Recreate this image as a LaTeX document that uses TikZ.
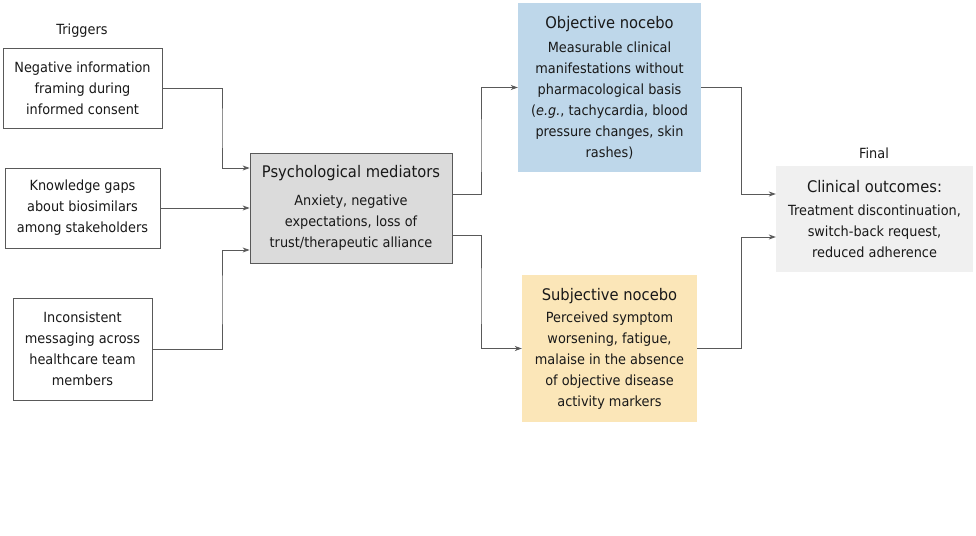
\documentclass[tikz,border=0pt]{standalone}
\usepackage{fontspec}
\setmainfont{DejaVu Sans}[FakeStretch=0.92]
\usetikzlibrary{arrows.meta}
\begin{document}
\begin{tikzpicture}[x=1pt,y=-1pt,
  txt/.style={font=\fontsize{14}{21}\selectfont, align=center, inner sep=0pt, text=black!90},
  trig/.style={txt, draw=black!65, line width=0.8pt},
  fillbox/.style={txt},
  conn/.style={draw=black!65, line width=0.8pt, -{Stealth[length=7pt,width=5pt]}}]
\useasboundingbox (0,0) rectangle (976,535);
\fill[white] (0,0) rectangle (976,535);
\newcommand{\T}[1]{{\fontsize{16}{21}\selectfont #1}}

\node[txt] (lt) at (82,31) {Triggers};
\node[trig, minimum width=159pt, minimum height=80pt] (t1) at (82.5,88) {Negative information\\framing during\\informed consent};
\node[trig, minimum width=155pt, minimum height=80pt] (t2) at (82.5,208) {Knowledge gaps\\about biosimilars\\among stakeholders};
\node[trig, minimum width=139pt, minimum height=102pt] (t3) at (82.5,349) {Inconsistent\\messaging across\\healthcare team\\members};

\node[trig, fill=black!14, minimum width=202pt, minimum height=110pt] (pm) at (351,208)
  {\T{Psychological mediators}\\[7pt]Anxiety, negative\\expectations, loss of\\trust/therapeutic alliance};

\node[fillbox, fill={rgb,255:red,190;green,215;blue,234}, minimum width=183pt, minimum height=169pt] (ob) at (609.5,87.5)
  {\T{Objective nocebo}\\[3pt]Measurable clinical\\manifestations without\\pharmacological basis\\(\textit{e.g.}, tachycardia, blood\\pressure changes, skin\\rashes)};

\node[fillbox, fill={rgb,255:red,251;green,230;blue,184}, minimum width=175pt, minimum height=147pt] (sb) at (609.5,348.5)
  {\T{Subjective nocebo}\\[1pt]Perceived symptom\\worsening, fatigue,\\malaise in the absence\\of objective disease\\activity markers};

\node[txt] (lf) at (874,153) {Final};
\node[fillbox, fill=black!6, minimum width=197pt, minimum height=106pt] (co) at (874.5,219)
  {\T{Clinical outcomes:}\\[2pt]Treatment discontinuation,\\switch-back request,\\reduced adherence};

\coordinate (j1) at (222,0);
\coordinate (j2) at (481,0);
\coordinate (j3) at (741,0);

\draw[conn] (t1.east) -| (j1 |- 0,128) |- ([yshift=40pt]pm.west);
\draw[conn] (t2.east) -- (pm.west);
\draw[conn] (t3.east) -| (j1 |- 0,300) |- ([yshift=-42pt]pm.west);

\draw[conn] ([yshift=14pt]pm.east) -| (j2 |- 0,150) |- (ob.west);
\draw[conn] ([yshift=-27pt]pm.east) -| (j2 |- 0,300) |- (sb.west);

\draw[conn] (ob.east) -| (j3 |- 0,150) |- ([yshift=25pt]co.west);
\draw[conn] (sb.east) -| (j3 |- 0,300) |- ([yshift=-18pt]co.west);
\end{tikzpicture}
\end{document}
